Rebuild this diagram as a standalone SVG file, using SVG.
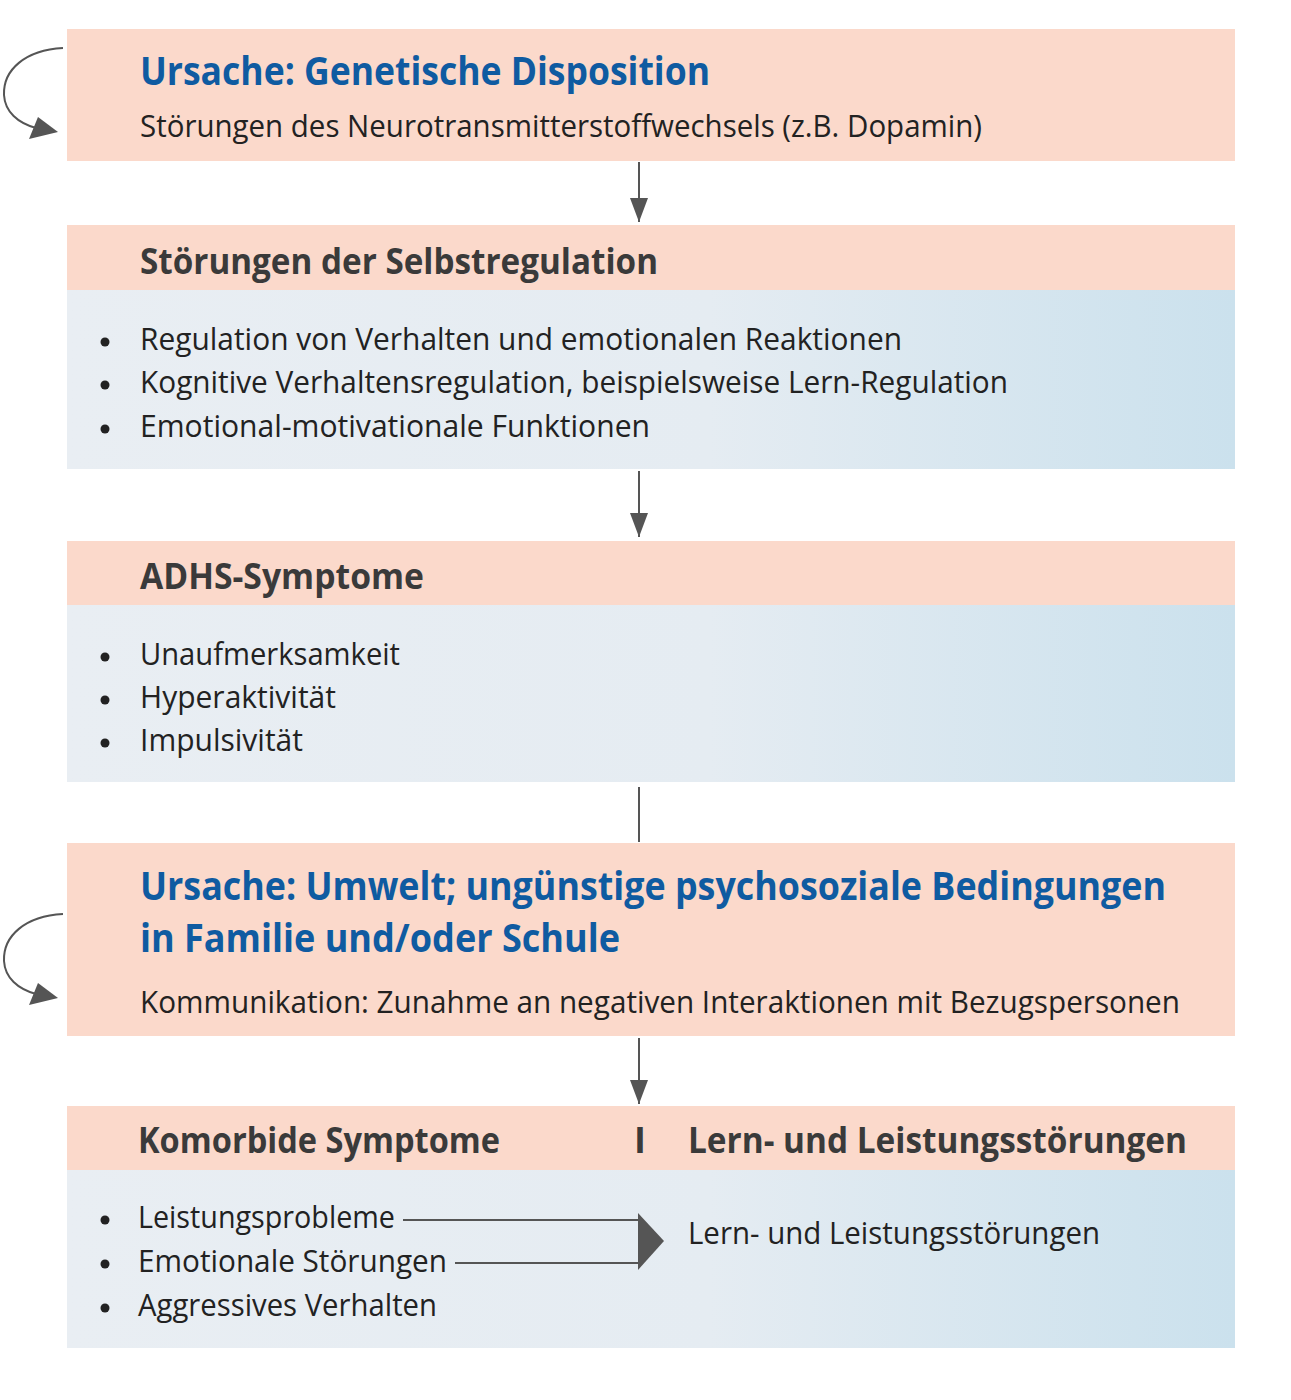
<svg xmlns="http://www.w3.org/2000/svg" width="1291" height="1400" viewBox="0 0 1291 1400">
<defs>
<linearGradient id="blueGrad" x1="0" y1="0" x2="1" y2="0">
<stop offset="0" stop-color="#e9eef3"/>
<stop offset="0.55" stop-color="#e5ecf2"/>
<stop offset="1" stop-color="#cbe1ed"/>
</linearGradient>
<marker id="arrow" viewBox="0 0 24 18" refX="24" refY="9" markerWidth="24" markerHeight="18" markerUnits="userSpaceOnUse" orient="auto">
<path d="M0,0 L24,9 L0,18 Z" fill="#555"/>
</marker>
</defs>
<style>
.peach{fill:#fbd9cb}
.blue{fill:url(#blueGrad)}
.title{font-family:"Open Sans","Liberation Sans",sans-serif;font-weight:bold;font-size:40px;fill:#0f5ba1}
.head{font-family:"Open Sans","Liberation Sans",sans-serif;font-weight:bold;font-size:36px;fill:#3a3a3a}
.body{font-family:"Open Sans","Liberation Sans",sans-serif;font-size:31px;fill:#222}
.bullet{fill:#222}
.conn{stroke:#555;stroke-width:2;fill:none}
.head-fill{fill:#555}
</style>
<rect width="1291" height="1400" fill="#fff"/>

<g id="node-genetik">
<rect class="peach" x="67" y="29" width="1168" height="132"/>
<text class="title" x="140" y="85" textLength="570" lengthAdjust="spacingAndGlyphs">Ursache: Genetische Disposition</text>
<text class="body" x="140" y="137" textLength="842" lengthAdjust="spacingAndGlyphs">Störungen des Neurotransmitterstoffwechsels (z.B. Dopamin)</text>
</g>

<g id="node-selbstregulation">
<rect class="peach" x="67" y="225" width="1168" height="65"/>
<rect class="blue" x="67" y="290" width="1168" height="179"/>
<text class="head" x="140" y="274" textLength="518" lengthAdjust="spacingAndGlyphs">Störungen der Selbstregulation</text>
<circle class="bullet" cx="105" cy="342" r="4.5"/>
<text class="body" x="140" y="350" textLength="762" lengthAdjust="spacingAndGlyphs">Regulation von Verhalten und emotionalen Reaktionen</text>
<circle class="bullet" cx="105" cy="385" r="4.5"/>
<text class="body" x="140" y="393" textLength="868" lengthAdjust="spacingAndGlyphs">Kognitive Verhaltensregulation, beispielsweise Lern-Regulation</text>
<circle class="bullet" cx="105" cy="429" r="4.5"/>
<text class="body" x="140" y="437" textLength="510" lengthAdjust="spacingAndGlyphs">Emotional-motivationale Funktionen</text>
</g>

<g id="node-symptome">
<rect class="peach" x="67" y="541" width="1168" height="64"/>
<rect class="blue" x="67" y="605" width="1168" height="177"/>
<text class="head" x="140" y="589" textLength="284" lengthAdjust="spacingAndGlyphs">ADHS-Symptome</text>
<circle class="bullet" cx="105" cy="657" r="4.5"/>
<text class="body" x="140" y="665" textLength="260" lengthAdjust="spacingAndGlyphs">Unaufmerksamkeit</text>
<circle class="bullet" cx="105" cy="700" r="4.5"/>
<text class="body" x="140" y="708" textLength="196" lengthAdjust="spacingAndGlyphs">Hyperaktivität</text>
<circle class="bullet" cx="105" cy="743" r="4.5"/>
<text class="body" x="140" y="751" textLength="163" lengthAdjust="spacingAndGlyphs">Impulsivität</text>
</g>

<g id="node-umwelt">
<rect class="peach" x="67" y="843" width="1168" height="193"/>
<text class="title" x="140" y="900" textLength="1026" lengthAdjust="spacingAndGlyphs">Ursache: Umwelt; ungünstige psychosoziale Bedingungen</text>
<text class="title" x="140" y="952" textLength="480" lengthAdjust="spacingAndGlyphs">in Familie und/oder Schule</text>
<text class="body" x="140" y="1013" textLength="1040" lengthAdjust="spacingAndGlyphs">Kommunikation: Zunahme an negativen Interaktionen mit Bezugspersonen</text>
</g>

<g id="node-komorbid">
<rect class="peach" x="67" y="1106" width="1168" height="64"/>
<rect class="blue" x="67" y="1170" width="1168" height="178"/>
<text class="head" x="138" y="1153" textLength="362" lengthAdjust="spacingAndGlyphs">Komorbide Symptome</text>
<text class="head" x="634" y="1153">I</text>
<text class="head" x="688" y="1153" textLength="499" lengthAdjust="spacingAndGlyphs">Lern- und Leistungsstörungen</text>
<circle class="bullet" cx="105" cy="1220" r="4.5"/>
<text class="body" x="138" y="1228" textLength="257" lengthAdjust="spacingAndGlyphs">Leistungsprobleme</text>
<circle class="bullet" cx="105" cy="1264" r="4.5"/>
<text class="body" x="138" y="1272" textLength="309" lengthAdjust="spacingAndGlyphs">Emotionale Störungen</text>
<circle class="bullet" cx="105" cy="1308" r="4.5"/>
<text class="body" x="138" y="1316" textLength="299" lengthAdjust="spacingAndGlyphs">Aggressives Verhalten</text>
<text class="body" x="688" y="1244" textLength="412" lengthAdjust="spacingAndGlyphs">Lern- und Leistungsstörungen</text>
</g>

<g id="connectors">
<line class="conn" x1="639" y1="162" x2="639" y2="222" marker-end="url(#arrow)"/>
<line class="conn" x1="639" y1="471" x2="639" y2="537" marker-end="url(#arrow)"/>
<line class="conn" x1="639" y1="787" x2="639" y2="842"/>
<line class="conn" x1="639" y1="1038" x2="639" y2="1104" marker-end="url(#arrow)"/>
<path class="conn" d="M63,48 C25,50 3,70 4,95 C5,112 18,123 36,128"/>
<polygon class="head-fill" points="38,117 58,132 29,139"/>
<path class="conn" d="M63,914 C25,916 3,936 4,961 C5,978 18,989 36,994"/>
<polygon class="head-fill" points="38,983 58,998 29,1005"/>
<line class="conn" x1="403" y1="1220" x2="640" y2="1220"/>
<line class="conn" x1="455" y1="1263" x2="640" y2="1263"/>
<path class="head-fill" d="M638,1213 L664,1241 L638,1270 Z"/>
</g>
</svg>
